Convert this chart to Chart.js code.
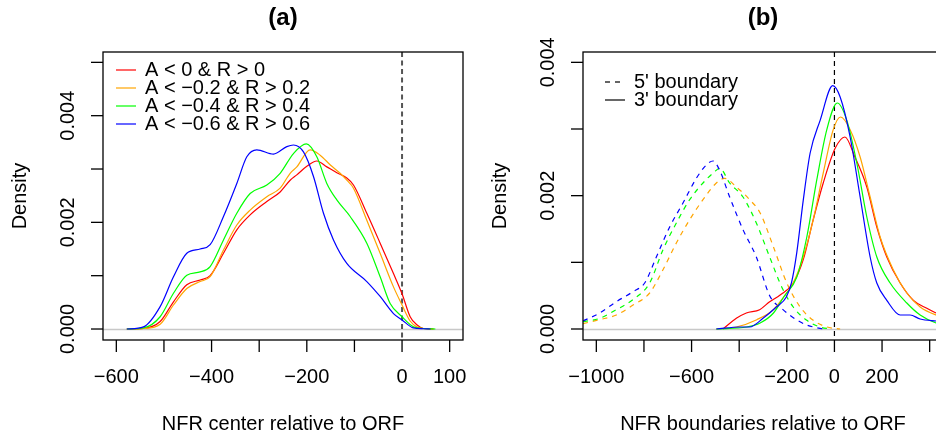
<!DOCTYPE html>
<html>
<head>
<meta charset="utf-8">
<script src="https://cdn.jsdelivr.net/npm/chart.js@4"></script>
<style>
html, body { margin:0; padding:0; background:#fff; width:936px; height:438px; overflow:hidden; }
#wrap { position:relative; width:936px; height:438px; overflow:hidden; }
canvas { position:absolute; top:0; }
#canvasA { left:0; }
#canvasB { left:480px; }
</style>
</head>
<body>
<div id="wrap">
<canvas id="canvasA" width="468" height="438"></canvas>
<canvas id="canvasB" width="468" height="438"></canvas>
</div>
<script>
"use strict";

// ---- panel (a): NFR center densities
let aRedX = [-578,-543,-508,-480,-452,-424,-403,-375,-347,-319,-284,-256,-235,-221,-200,-179,-158,-137,-116,-102,-74,-46,-18,0,17,31,45,66];
let aRedY = [0,0.00001,0.00014,0.00051,0.00083,0.00092,0.00100,0.00142,0.00186,0.00214,0.00239,0.00257,0.00279,0.00289,0.00305,0.00315,0.00304,0.00293,0.00283,0.00270,0.00217,0.00161,0.00104,0.00066,0.00023,0.00008,0.00001,0];
let aOrangeX = [-578,-543,-508,-480,-452,-424,-403,-375,-347,-319,-284,-256,-235,-221,-193,-172,-150,-130,-116,-102,-74,-46,-18,0,17,31,45,66];
let aOrangeY = [0,0.00001,0.00009,0.00045,0.00076,0.00089,0.00098,0.00148,0.00195,0.00223,0.00248,0.00264,0.00292,0.00304,0.00336,0.00326,0.00307,0.00292,0.00279,0.00264,0.00204,0.00142,0.00079,0.00045,0.00015,0.00004,0.00001,0];
let aGreenX = [-578,-543,-508,-480,-452,-424,-403,-375,-347,-319,-284,-256,-228,-201,-179,-158,-137,-109,-74,-46,-25,0,24,45,70];
let aGreenY = [0,0.00002,0.00023,0.00067,0.00101,0.00107,0.00117,0.00167,0.00217,0.00254,0.00270,0.00292,0.00329,0.00347,0.00323,0.00273,0.00242,0.00211,0.00161,0.00098,0.00048,0.00023,0.00004,0.00001,0];
let aBlueX = [-578,-543,-508,-480,-452,-424,-403,-375,-347,-326,-305,-270,-242,-228,-207,-186,-165,-144,-116,-74,-46,-18,0,24,45,60];
let aBlueY = [0,0.00004,0.00042,0.00098,0.00142,0.00150,0.00158,0.00211,0.00273,0.00323,0.00336,0.00328,0.00342,0.00345,0.00332,0.00286,0.00217,0.00167,0.00123,0.00089,0.00061,0.00029,0.00017,0.00002,0.000005,0];

let aXTicks = [-600,-500,-400,-300,-200,-100,0,100];
let aXLabels = ["\u2212600","","\u2212400","","\u2212200","","0","100"];
let aYTicks = [0,0.001,0.002,0.003,0.004,0.005];
let aYLabels = ["0.000","","0.002","","0.004",""];
let aLegend = ["A < 0 & R > 0","A < \u22120.2 & R > 0.2","A < \u22120.4 & R > 0.4","A < \u22120.6 & R > 0.6"];

// ---- panel (b): NFR boundaries, 5' (dashed) and 3' (solid)
let bOrange5X = [-1056,-986,-916,-846,-776,-720,-664,-608,-552,-496,-461,-412,-356,-312,-256,-200,-144,-89,-32,24];
let bOrange5Y = [0.00008,0.00014,0.00021,0.00036,0.00054,0.00089,0.00129,0.00164,0.00194,0.00219,0.00226,0.00213,0.00194,0.00174,0.00123,0.00069,0.00033,0.00013,0.00003,0];
let bGreen5X = [-1056,-986,-916,-846,-776,-720,-664,-608,-552,-503,-482,-440,-384,-328,-272,-220,-173,-116,-60,-18];
let bGreen5Y = [0.00011,0.00016,0.00029,0.00044,0.00069,0.00119,0.00159,0.00194,0.00219,0.00236,0.00241,0.00219,0.00198,0.00159,0.00108,0.00062,0.00033,0.00013,0.00003,0];
let bBlue5X = [-1056,-986,-916,-846,-797,-748,-692,-636,-580,-538,-510,-482,-440,-384,-328,-272,-216,-160,-116,-60,-30];
let bBlue5Y = [0.00012,0.00024,0.00041,0.00056,0.00069,0.00108,0.00153,0.00189,0.00226,0.00246,0.00252,0.00238,0.00198,0.00149,0.00108,0.00050,0.00029,0.00014,0.00006,0.00001,0];

let bRed3X = [-468,-412,-370,-314,-272,-228,-173,-131,-89,-47,3,44,86,136,178,220,276,332,388,427,460];
let bRed3Y = [0,0.00016,0.00024,0.00029,0.00041,0.00051,0.00069,0.00104,0.00164,0.00219,0.00271,0.00288,0.00258,0.00213,0.00153,0.00108,0.00069,0.00043,0.00031,0.00024,0.00020];
let bOrange3X = [-496,-412,-326,-256,-213,-173,-131,-89,-47,-5,26,66,108,150,192,247,304,360,427,460];
let bOrange3Y = [0,0.00003,0.00014,0.00029,0.00048,0.00069,0.00108,0.00164,0.00234,0.00299,0.00318,0.00299,0.00258,0.00198,0.00138,0.00089,0.00054,0.00033,0.00021,0.00018];
let bGreen3X = [-496,-368,-312,-256,-213,-158,-116,-74,-32,12,52,94,136,178,234,304,360,427,460];
let bGreen3Y = [0,0.00003,0.00009,0.00024,0.00048,0.00078,0.00138,0.00224,0.00299,0.00339,0.00313,0.00249,0.00168,0.00108,0.00069,0.00039,0.00021,0.00009,0.00007];
let bBlue3X = [-496,-396,-356,-300,-244,-202,-180,-158,-131,-102,-60,-7,24,66,108,150,178,220,276,318,360,427,460];
let bBlue3Y = [0,0.00003,0.00003,0.00016,0.00033,0.00048,0.00070,0.00115,0.00193,0.00264,0.00313,0.00365,0.00348,0.00288,0.00198,0.00108,0.00069,0.00043,0.00021,0.00021,0.00015,0.00012,0.00011];

let bXTicks = [-1000,-800,-600,-400,-200,0,200,400];
let bXLabels = ["\u22121000","","\u2212600","","\u2212200","0","200",""];
let bYTicks = [0,0.001,0.002,0.003,0.004];
let bYLabels = ["0.000","","0.002","","0.004"];
let bLegend = ["5' boundary","3' boundary"];

// colours
const RED = "#FF0000", ORANGE = "#FFA500", GREEN = "#00FF00", BLUE = "#0000FF";
const FONT = "\"Liberation Sans\", Arial, Helvetica, sans-serif";
const DASH = [5, 5];

function pts(xs, ys)
{
    return xs.map((x, i) => ({ x: x, y: ys[i] }));
}

function line(xs, ys, color, dashed)
{
    return {
        data: pts(xs, ys),
        borderColor: color,
        borderWidth: 1.2,
        borderDash: dashed ? DASH : [],
        pointRadius: 0,
        fill: false,
        cubicInterpolationMode: "monotone",
    };
}

// R style axes, box, titles, legend
let rAxes = {
    id: "rAxes",
    beforeDatasetsDraw(chart, args, o) {
        let ctx = chart.ctx, a = chart.chartArea;
        let xs = chart.scales.x, ys = chart.scales.y;
        ctx.save();
        ctx.beginPath();
        ctx.rect(a.left, a.top, a.right - a.left, a.bottom - a.top);
        ctx.clip();
        // zero line
        let y0 = Math.round(ys.getPixelForValue(0)) + 0.5;
        ctx.strokeStyle = "#c8c8c8";
        ctx.lineWidth = 1.5;
        ctx.beginPath();
        ctx.moveTo(a.left, y0);
        ctx.lineTo(a.right, y0);
        ctx.stroke();
        // vertical dashed at 0
        let x0 = xs.getPixelForValue(0);
        ctx.strokeStyle = o.vColor;
        ctx.lineWidth = o.vWidth;
        ctx.setLineDash(o.vDash);
        ctx.beginPath();
        ctx.moveTo(x0, a.top);
        ctx.lineTo(x0, a.bottom);
        ctx.stroke();
        ctx.restore();
    },
    afterDraw(chart, args, o) {
        let ctx = chart.ctx, a = chart.chartArea;
        let xs = chart.scales.x, ys = chart.scales.y;
        ctx.save();
        ctx.strokeStyle = "#000";
        ctx.fillStyle = "#000";
        ctx.lineWidth = 1.3;
        ctx.setLineDash([]);
        ctx.strokeRect(a.left, a.top, a.right - a.left, a.bottom - a.top);

        ctx.font = "20px " + FONT;
        ctx.textAlign = "center";
        ctx.textBaseline = "middle";
        // x axis
        o.xTicks.forEach((v, i) => {
            let px = xs.getPixelForValue(v);
            ctx.beginPath();
            ctx.moveTo(px, a.bottom);
            ctx.lineTo(px, a.bottom + 12);
            ctx.stroke();
            if (o.xLabels[i]) ctx.fillText(o.xLabels[i], px, a.bottom + 37);
        });
        // y axis
        o.yTicks.forEach((v, i) => {
            let py = ys.getPixelForValue(v);
            ctx.beginPath();
            ctx.moveTo(a.left, py);
            ctx.lineTo(a.left - 12, py);
            ctx.stroke();
            if (o.yLabels[i]) {
                ctx.save();
                ctx.translate(a.left - 35, py);
                ctx.rotate(-Math.PI / 2);
                ctx.fillText(o.yLabels[i], 0, 0);
                ctx.restore();
            }
        });
        let cx = (a.left + a.right) / 2;
        let cy = (a.top + a.bottom) / 2;
        ctx.fillText(o.xTitle, cx, 424);
        ctx.save();
        ctx.translate(20, cy);
        ctx.rotate(-Math.PI / 2);
        ctx.fillText("Density", 0, 0);
        ctx.restore();
        ctx.font = "bold 24px " + FONT;
        ctx.fillText(o.title, cx, 18);

        // legend
        let lg = o.legend;
        ctx.font = "20px " + FONT;
        ctx.textAlign = "left";
        ctx.lineWidth = 1.2;
        lg.labels.forEach((t, i) => {
            let y = lg.y + i * lg.step;
            ctx.strokeStyle = lg.colors[i];
            ctx.setLineDash(lg.dashes[i]);
            ctx.beginPath();
            ctx.moveTo(lg.x1, y);
            ctx.lineTo(lg.x2, y);
            ctx.stroke();
            ctx.fillText(t, lg.tx, y);
        });
        ctx.restore();
    },
};

function makeChart(canvas, datasets, xr, yr, o)
{
    return new Chart(canvas, {
        type: "line",
        data: { datasets: datasets },
        options: {
            responsive: false,
            animation: false,
            devicePixelRatio: 1,
            events: [],
            layout: { padding: { left: 103, right: 5, top: 52, bottom: 98 } },
            scales: {
                x: { type: "linear", display: false, min: xr[0], max: xr[1] },
                y: { type: "linear", display: false, min: yr[0], max: yr[1] },
            },
            plugins: { legend: { display: false }, tooltip: { enabled: false }, rAxes: o },
        },
        plugins: [rAxes],
    });
}

// first dataset ends up on top
let chartA = makeChart(document.querySelector("#canvasA"), [
    line(aBlueX, aBlueY, BLUE, false),
    line(aGreenX, aGreenY, GREEN, false),
    line(aOrangeX, aOrangeY, ORANGE, false),
    line(aRedX, aRedY, RED, false),
], [-628, 128], [-0.000206, 0.005194], {
    xTicks: aXTicks, xLabels: aXLabels, yTicks: aYTicks, yLabels: aYLabels,
    xTitle: "NFR center relative to ORF", title: "(a)",
    vColor: "#555", vWidth: 2, vDash: [5, 3.5],
    legend: { labels: aLegend, colors: [RED, ORANGE, GREEN, BLUE], dashes: [[], [], [], []],
              x1: 116, x2: 136, tx: 145, y: 70, step: 18 },
});

let chartB = makeChart(document.querySelector("#canvasB"), [
    line(bBlue3X, bBlue3Y, BLUE, false),
    line(bGreen3X, bGreen3Y, GREEN, false),
    line(bOrange3X, bOrange3Y, ORANGE, false),
    line(bRed3X, bRed3Y, RED, false),
    line(bBlue5X, bBlue5Y, BLUE, true),
    line(bGreen5X, bGreen5Y, GREEN, true),
    line(bOrange5X, bOrange5Y, ORANGE, true),
], [-1056, 456], [-0.000165, 0.004155], {
    xTicks: bXTicks, xLabels: bXLabels, yTicks: bYTicks, yLabels: bYLabels,
    xTitle: "NFR boundaries relative to ORF", title: "(b)",
    vColor: "#000", vWidth: 1.2, vDash: [5, 4],
    legend: { labels: bLegend, colors: ["#000", "#000"], dashes: [[5, 5], []],
              x1: 125, x2: 145, tx: 154, y: 82, step: 18 },
});
</script>
</body>
</html>
